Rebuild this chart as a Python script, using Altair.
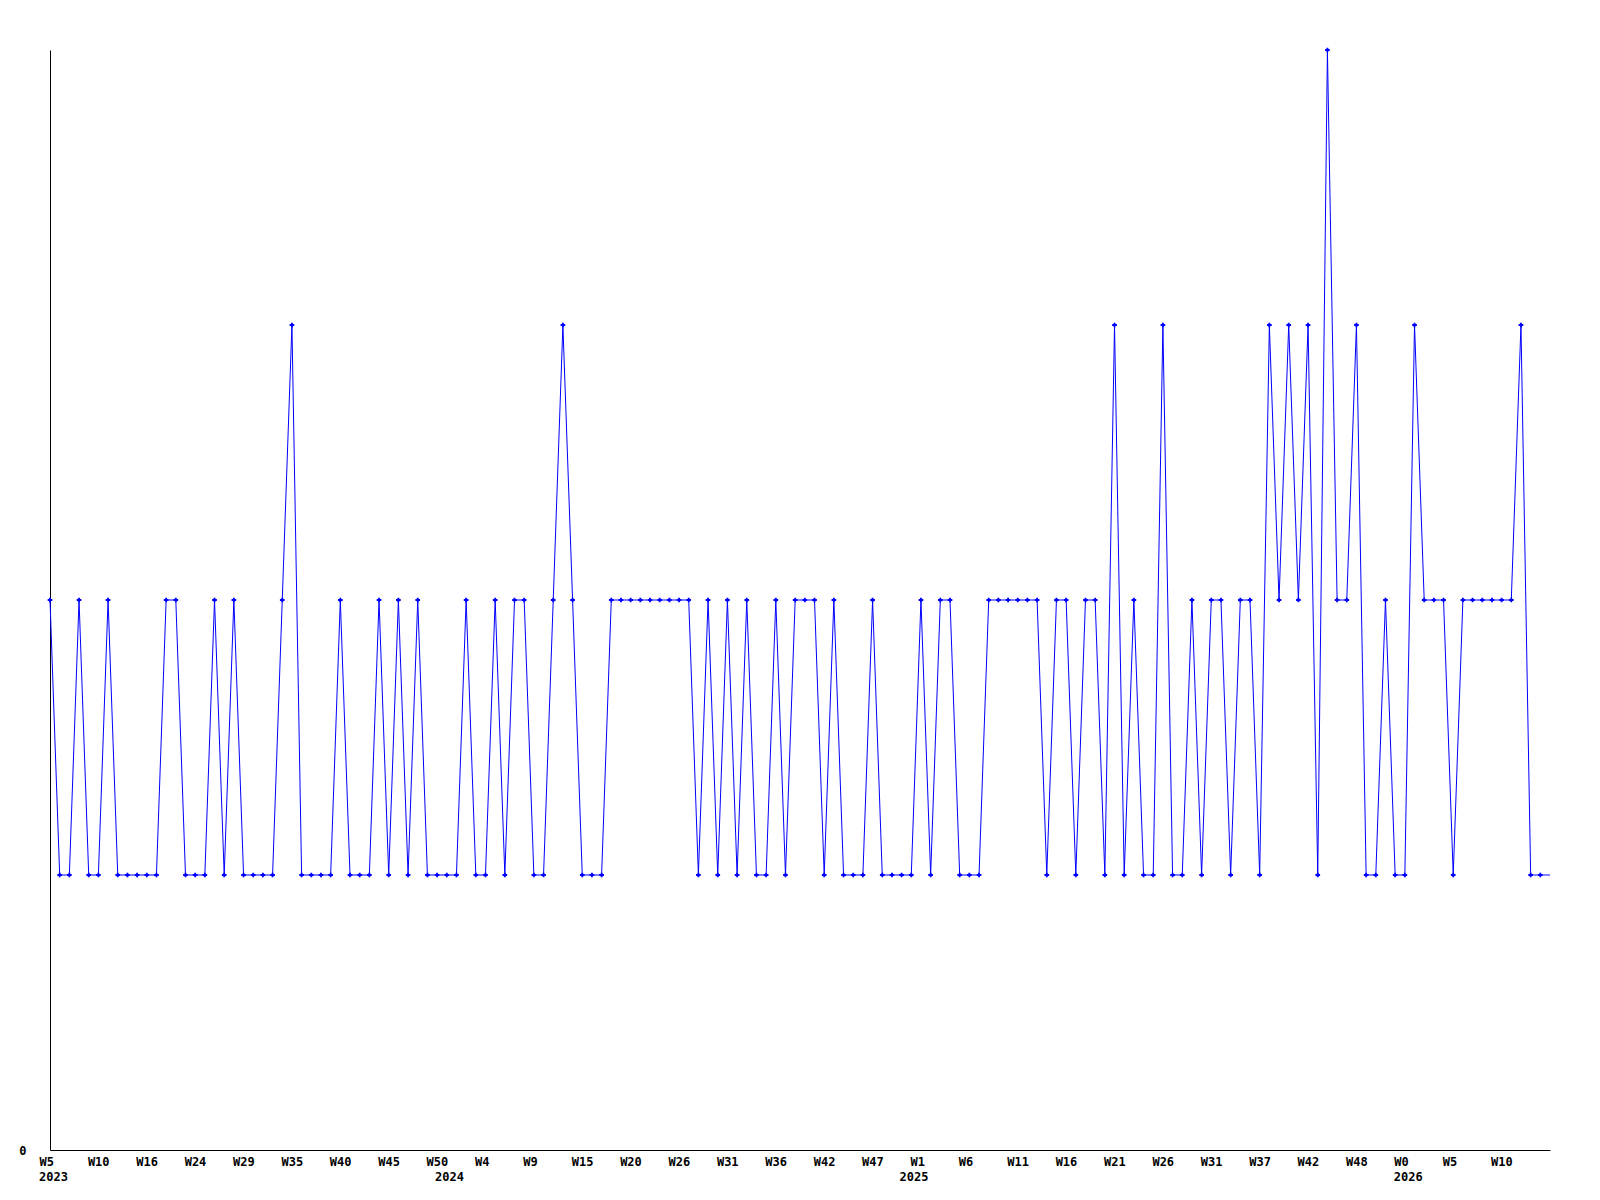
import altair as alt
import pandas as pd

# Weekly series (one point per period)
values = [
    2, 1, 1, 2, 1, 1, 2, 1, 1, 1,
    1, 1, 2, 2, 1, 1, 1, 2, 1, 2,
    1, 1, 1, 1, 2, 3, 1, 1, 1, 1,
    2, 1, 1, 1, 2, 1, 2, 1, 2, 1,
    1, 1, 1, 2, 1, 1, 2, 1, 2, 2,
    1, 1, 2, 3, 2, 1, 1, 1, 2, 2,
    2, 2, 2, 2, 2, 2, 2, 1, 2, 1,
    2, 1, 2, 1, 1, 2, 1, 2, 2, 2,
    1, 2, 1, 1, 1, 2, 1, 1, 1, 1,
    2, 1, 2, 2, 1, 1, 1, 2, 2, 2,
    2, 2, 2, 1, 2, 2, 1, 2, 2, 1,
    3, 1, 2, 1, 1, 3, 1, 1, 2, 1,
    2, 2, 1, 2, 2, 1, 3, 2, 3, 2,
    3, 1, 4, 2, 2, 3, 1, 1, 2,
    1, 1, 3, 2, 2, 2, 1, 2, 2, 2, 2, 2, 2, 3, 1, 1, 1,
]

# x tick labels, one every 5 points
tick_labels = [
    "W5", "W10", "W16", "W24", "W29", "W35", "W40", "W45", "W50", "W4",
    "W9", "W15", "W20", "W26", "W31", "W36", "W42", "W47", "W1", "W6",
    "W11", "W16", "W21", "W26", "W31", "W37", "W42", "W48", "W0", "W5",
    "W10",
]
tick_step = 5

# year labels and the (index) position where each starts
years = ["2023", "2024", "2025", "2026"]
year_pos = [0, 40.93, 88.93, 140]

n = len(values)
df = pd.DataFrame({"i": list(range(n)), "v": values})
ydf = pd.DataFrame({"year": years, "pos": year_pos})

tick_vals = [k * tick_step for k in range(len(tick_labels))]
label_arr = "[" + ",".join("'" + t + "'" for t in tick_labels) + "]"

FONT = "DejaVu Sans Mono"
BLUE = "#0000ff"

xscale = alt.Scale(domain=[0, n - 1], nice=False, zero=False)
yscale = alt.Scale(domain=[0, 4], nice=False)

x_axis = alt.Axis(
    values=tick_vals,
    labelExpr=f"{label_arr}[round(datum.value / {tick_step})]",
    ticks=False,
    grid=False,
    title=None,
    labelAlign="left",
    labelBaseline="top",
    labelOffset=-11,
    labelPadding=6,
    labelFont=FONT,
    labelFontWeight="bold",
    labelFontSize=12,
    labelColor="black",
    labelOverlap=False,
    labelFlush=False,
    domainColor="black",
    domainWidth=1,
)
y_axis = alt.Axis(
    values=[0],
    format="d",
    ticks=False,
    grid=False,
    title=None,
    labelAlign="right",
    labelBaseline="middle",
    labelPadding=24,
    labelFont=FONT,
    labelFontWeight="bold",
    labelFontSize=12,
    labelColor="black",
    domainColor="black",
    domainWidth=1,
)

base = alt.Chart(df)

line = base.mark_line(color=BLUE, strokeWidth=1, interpolate="linear").encode(
    x=alt.X("i:Q", scale=xscale, axis=x_axis),
    y=alt.Y("v:Q", scale=yscale, axis=y_axis),
)

points = base.transform_filter(f"datum.i < {n - 1}").mark_point(
    shape="cross", filled=True, color=BLUE, size=22, opacity=1
).encode(
    x=alt.X("i:Q", scale=xscale),
    y=alt.Y("v:Q", scale=yscale),
)

year_text = alt.Chart(ydf).mark_text(
    align="left", baseline="top", dx=-11, font=FONT, fontWeight="bold",
    fontSize=12, color="black"
).encode(
    x=alt.X("pos:Q", scale=xscale),
    y=alt.value(1122),
    text="year:N",
)

chart = alt.layer(line, points, year_text).properties(
    width=1500,
    height=1100,
    autosize=alt.AutoSizeParams(type="none"),
    padding={"left": 42, "top": 42, "right": 42, "bottom": 42},
    background="white",
).configure_view(stroke=None)

chart.save("out.html", embed_options={"renderer": "svg", "actions": False})
